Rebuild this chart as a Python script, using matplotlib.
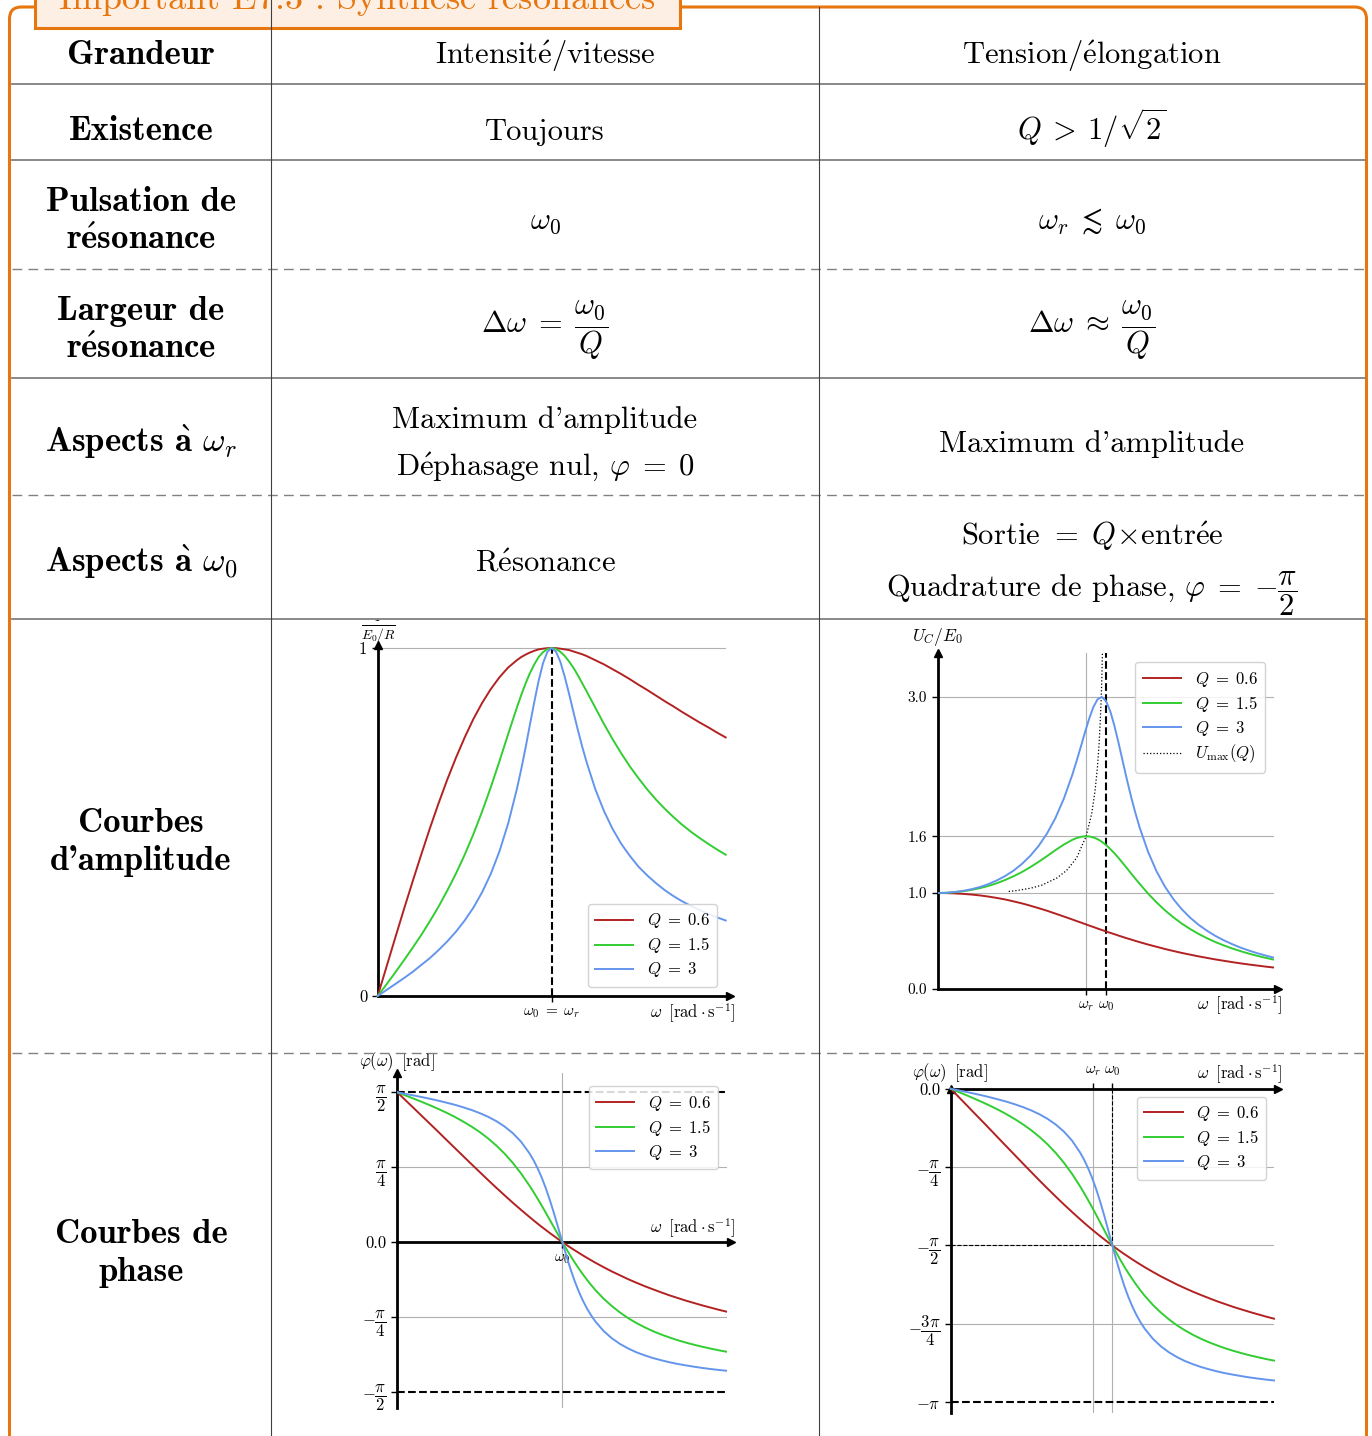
import matplotlib
matplotlib.use("Agg")
import matplotlib.pyplot as plt
from matplotlib.patches import FancyBboxPatch, Rectangle
import numpy as np

plt.rcParams['font.family'] = ['cmr10', 'DejaVu Serif']
plt.rcParams['mathtext.fontset'] = 'cm'
plt.rcParams['axes.unicode_minus'] = False

# ------------------------------------------------------------------ data
# reduced pulsation omega/omega0
omega = [0, 0.05, 0.1, 0.15, 0.2, 0.25, 0.3, 0.35, 0.4, 0.45, 0.5, 0.55, 0.6, 0.65, 0.7, 0.75, 0.8,
         0.825, 0.85, 0.875, 0.9, 0.925, 0.95, 0.975, 1.0, 1.025, 1.05, 1.075, 1.1, 1.125, 1.15, 1.175,
         1.2, 1.25, 1.3, 1.35, 1.4, 1.45, 1.5, 1.55, 1.6, 1.65, 1.7, 1.75, 1.8, 1.85, 1.9, 1.95, 2.0]
q_labels = [r'$Q\;=\;0.6$', r'$Q\;=\;1.5$', r'$Q\;=\;3$']
q_colors = ['firebrick', 'limegreen', 'cornflowerblue']

# intensity amplitude I/(E0/R)
i_q06 = [0, 0.083, 0.166, 0.248, 0.328, 0.406, 0.482, 0.554, 0.622, 0.685, 0.743, 0.796, 0.842, 0.882,
         0.916, 0.944, 0.965, 0.974, 0.981, 0.987, 0.992, 0.996, 0.998, 0.9995, 1.0, 0.9996, 0.998, 0.996,
         0.994, 0.990, 0.986, 0.982, 0.977, 0.965, 0.953, 0.939, 0.925, 0.910, 0.894, 0.879, 0.863, 0.847,
         0.832, 0.816, 0.801, 0.786, 0.772, 0.757, 0.743]
i_q15 = [0, 0.033, 0.067, 0.102, 0.138, 0.175, 0.215, 0.257, 0.303, 0.352, 0.406, 0.465, 0.530, 0.600,
         0.675, 0.753, 0.829, 0.865, 0.898, 0.928, 0.953, 0.974, 0.988, 0.997, 1.0, 0.997, 0.989, 0.977,
         0.961, 0.943, 0.922, 0.899, 0.876, 0.829, 0.782, 0.738, 0.697, 0.659, 0.625, 0.593, 0.564, 0.538,
         0.514, 0.492, 0.472, 0.454, 0.437, 0.421, 0.406]
i_q3 = [0, 0.017, 0.034, 0.051, 0.069, 0.089, 0.109, 0.132, 0.157, 0.185, 0.217, 0.254, 0.298, 0.351,
        0.416, 0.496, 0.595, 0.652, 0.714, 0.780, 0.845, 0.906, 0.956, 0.989, 1.0, 0.989, 0.960, 0.917,
        0.868, 0.816, 0.765, 0.717, 0.673, 0.595, 0.532, 0.480, 0.437, 0.402, 0.371, 0.346, 0.324, 0.304,
        0.287, 0.272, 0.259, 0.247, 0.236, 0.226, 0.217]

# voltage amplitude U_C/E0
u_q06 = [1.0, 0.999, 0.996, 0.991, 0.984, 0.975, 0.963, 0.949, 0.933, 0.913, 0.892, 0.868, 0.842, 0.815,
         0.785, 0.755, 0.724, 0.708, 0.693, 0.677, 0.661, 0.646, 0.630, 0.615, 0.600, 0.585, 0.571, 0.556,
         0.542, 0.528, 0.515, 0.501, 0.488, 0.463, 0.440, 0.417, 0.396, 0.376, 0.358, 0.340, 0.324, 0.308,
         0.294, 0.280, 0.267, 0.255, 0.244, 0.233, 0.223]
u_q15 = [1.0, 1.002, 1.008, 1.018, 1.032, 1.050, 1.073, 1.101, 1.135, 1.174, 1.218, 1.269, 1.325, 1.385,
         1.447, 1.505, 1.554, 1.572, 1.585, 1.591, 1.589, 1.579, 1.561, 1.534, 1.500, 1.459, 1.414, 1.364,
         1.311, 1.257, 1.202, 1.148, 1.095, 0.994, 0.903, 0.820, 0.747, 0.682, 0.625, 0.574, 0.529, 0.489,
         0.454, 0.422, 0.394, 0.368, 0.345, 0.324, 0.305]
u_q3 = [1.0, 1.002, 1.010, 1.022, 1.039, 1.062, 1.092, 1.130, 1.176, 1.232, 1.302, 1.387, 1.491, 1.621,
        1.783, 1.985, 2.232, 2.373, 2.521, 2.673, 2.816, 2.937, 3.018, 3.042, 3.000, 2.895, 2.742, 2.560,
        2.367, 2.176, 1.996, 1.831, 1.682, 1.429, 1.227, 1.067, 0.937, 0.831, 0.743, 0.669, 0.607, 0.553,
        0.507, 0.467, 0.431, 0.400, 0.372, 0.348, 0.325]
# resonance maxima U_max(Q)
umax_w = [0.422, 0.468, 0.555, 0.619, 0.707, 0.766, 0.825, 0.882, 0.915, 0.935, 0.949, 0.959,
          0.966, 0.972, 0.976, 0.979, 0.984]
umax_v = [1.016, 1.025, 1.051, 1.082, 1.155, 1.235, 1.364, 1.591, 1.826, 2.066, 2.308, 2.552,
          2.797, 3.043, 3.289, 3.536, 4.032]
u_ticks = [0.0, 1.0, 1.591, 3.043]
u_ticklabels = ['0.0', '1.0', '1.6', '3.0']
w_r = 0.882

# phase of intensity (rad)
p_q06 = [1.571, 1.487, 1.404, 1.320, 1.237, 1.153, 1.068, 0.984, 0.900, 0.816, 0.733, 0.650, 0.569, 0.490,
         0.412, 0.337, 0.264, 0.228, 0.193, 0.159, 0.126, 0.093, 0.062, 0.030, 0.0, -0.030, -0.059, -0.087,
         -0.114, -0.141, -0.167, -0.192, -0.217, -0.264, -0.309, -0.350, -0.391, -0.428, -0.464, -0.497,
         -0.529, -0.560, -0.588, -0.616, -0.641, -0.666, -0.689, -0.712, -0.733]
p_q15 = [1.571, 1.537, 1.504, 1.469, 1.433, 1.395, 1.355, 1.311, 1.263, 1.211, 1.153, 1.087, 1.012, 0.927,
         0.830, 0.719, 0.594, 0.526, 0.455, 0.382, 0.307, 0.230, 0.153, 0.076, 0.0, -0.074, -0.145, -0.214,
         -0.279, -0.340, -0.398, -0.452, -0.503, -0.594, -0.672, -0.740, -0.800, -0.851, -0.896, -0.936,
         -0.971, -1.002, -1.031, -1.056, -1.079, -1.100, -1.119, -1.137, -1.153]
p_q3 = [1.571, 1.554, 1.537, 1.520, 1.502, 1.482, 1.461, 1.439, 1.413, 1.385, 1.352, 1.314, 1.268, 1.212,
        1.142, 1.052, 0.933, 0.860, 0.775, 0.677, 0.564, 0.438, 0.299, 0.151, 0.0, -0.147, -0.285, -0.410,
        -0.520, -0.616, -0.699, -0.771, -0.833, -0.933, -1.010, -1.070, -1.118, -1.158, -1.190, -1.218,
        -1.241, -1.262, -1.280, -1.295, -1.309, -1.322, -1.333, -1.343, -1.352]

# phase of voltage (rad)
v_q06 = [0.0, -0.084, -0.167, -0.251, -0.334, -0.418, -0.503, -0.587, -0.671, -0.755, -0.838, -0.921,
         -1.002, -1.081, -1.159, -1.234, -1.307, -1.343, -1.378, -1.412, -1.445, -1.478, -1.509, -1.541,
         -1.571, -1.601, -1.630, -1.658, -1.685, -1.712, -1.738, -1.763, -1.788, -1.835, -1.880, -1.921,
         -1.962, -1.999, -2.035, -2.068, -2.100, -2.131, -2.159, -2.187, -2.212, -2.237, -2.260, -2.283, -2.304]
v_q15 = [0.0, -0.034, -0.067, -0.102, -0.138, -0.176, -0.216, -0.260, -0.308, -0.360, -0.418, -0.484,
         -0.559, -0.644, -0.741, -0.852, -0.977, -1.045, -1.116, -1.189, -1.264, -1.341, -1.418, -1.495,
         -1.571, -1.645, -1.716, -1.785, -1.850, -1.911, -1.969, -2.023, -2.074, -2.165, -2.243, -2.311,
         -2.371, -2.422, -2.467, -2.507, -2.542, -2.573, -2.602, -2.627, -2.650, -2.671, -2.690, -2.708, -2.724]
v_q3 = [0.0, -0.017, -0.034, -0.051, -0.069, -0.089, -0.110, -0.132, -0.158, -0.186, -0.219, -0.257,
        -0.303, -0.359, -0.429, -0.519, -0.638, -0.711, -0.796, -0.894, -1.007, -1.133, -1.272, -1.420,
        -1.571, -1.718, -1.856, -1.981, -2.091, -2.187, -2.270, -2.342, -2.404, -2.504, -2.581, -2.641,
        -2.689, -2.729, -2.761, -2.789, -2.812, -2.833, -2.851, -2.866, -2.880, -2.893, -2.904, -2.914, -2.923]

PI = np.pi
p_ticks = [PI / 2, PI / 4, 0.0, -PI / 4, -PI / 2]
p_ticklabels = [r'$\dfrac{\pi}{2}$', r'$\dfrac{\pi}{4}$', '0.0', r'$-\dfrac{\pi}{4}$', r'$-\dfrac{\pi}{2}$']
v_ticks = [0.0, -PI / 4, -PI / 2, -3 * PI / 4, -PI]
v_ticklabels = ['0.0', r'$-\dfrac{\pi}{4}$', r'$-\dfrac{\pi}{2}$', r'$-\dfrac{3\pi}{4}$', r'$-\pi$']

# table text
E_AC = r'$\acute{\mathrm{e}}$'
title = r'Important E7.3 : Synth$\grave{\mathrm{e}}$se r' + E_AC + 'sonances'
row_labels = [['Grandeur'], ['Existence'], ['Pulsation de', r'r$\acute{\mathbf{e}}$sonance'],
              ['Largeur de', r'r$\acute{\mathbf{e}}$sonance'],
              [r'Aspects $\grave{\mathbf{a}}$ $\omega_r$'], [r'Aspects $\grave{\mathbf{a}}$ $\omega_0$'],
              ['Courbes', "d'amplitude"], ['Courbes de', 'phase']]
col1_text = [['Intensit' + E_AC + '/vitesse'], ['Toujours'], [r'$\omega_0$'],
             [r'$\Delta\omega\;=\;\dfrac{\omega_0}{Q}$'],
             ["Maximum d'amplitude", 'D' + E_AC + r'phasage nul, $\varphi\;=\;0$'], ['R' + E_AC + 'sonance']]
col2_text = [['Tension/' + E_AC + 'longation'], [r'$Q\:>\:1/\sqrt{2}$'], [r'$\omega_r\;\lesssim\;\omega_0$'],
             [r'$\Delta\omega\;\approx\;\dfrac{\omega_0}{Q}$'], ["Maximum d'amplitude"],
             [r'Sortie $=\;Q\!\times\!$entr' + E_AC + 'e',
              r'Quadrature de phase, $\varphi\;=\;{-}\dfrac{\pi}{2}$']]

# ------------------------------------------------------------------ layout
W, H = 1372, 1436
fig = plt.figure(figsize=(W / 100, H / 100), dpi=100)
ORANGE = '#E8760F'
GRID = '#b0b0b0'


def axes_px(x0, y0, x1, y1):
    return fig.add_axes([x0 / W, 1 - y1 / H, (x1 - x0) / W, (y1 - y0) / H])


def style(ax):
    for s in ['top', 'right']:
        ax.spines[s].set_visible(False)
    ax.spines['left'].set_linewidth(2)
    ax.spines['bottom'].set_linewidth(2)
    ax.tick_params(labelsize=11, length=4, width=1)


def legend(ax, loc, anchor):
    ax.legend(loc=loc, bbox_to_anchor=anchor, borderaxespad=0, fontsize=12,
              handlelength=2.3, handletextpad=0.8, labelspacing=0.3, borderpad=0.45,
              framealpha=0.85, edgecolor='0.8')


curves_i = [i_q06, i_q15, i_q3]
curves_u = [u_q06, u_q15, u_q3]
curves_p = [p_q06, p_q15, p_q3]
curves_v = [v_q06, v_q15, v_q3]
LW = 1.4

# ---- plot 1 : intensity amplitude
ax1 = axes_px(377.7, 644.5, 725.7, 996)
style(ax1)
ax1.set_xlim(0, 2)
ax1.set_ylim(0, 1.01)
ax1.axhline(1.0, color=GRID, lw=0.8, zorder=0)
ax1.plot([1, 1], [0, 1], color='k', ls='--', lw=1.5, zorder=1)
for y, c, l in zip(curves_i, q_colors, q_labels):
    ax1.plot(omega, y, color=c, lw=LW, label=l, clip_on=False, zorder=3)
ax1.set_xticks([1])
ax1.set_xticklabels([r'$\omega_0\;=\;\omega_r$'], fontsize=11)
ax1.set_yticks([0, 1])
ax1.set_yticklabels(['0', '1'], fontsize=12)
ax1.plot(1.012, 0, '>k', ms=6, transform=ax1.transAxes, clip_on=False)
ax1.plot(0, 1.0, '^k', ms=6, transform=ax1.transAxes, clip_on=False)
legend(ax1, 'lower right', (0.975, 0.026))

# ---- plot 2 : voltage amplitude
ax2 = axes_px(937.7, 653, 1274.3, 989)
style(ax2)
ax2.set_xlim(0, 2)
ax2.set_ylim(0, 3.5)
for yv in u_ticks[1:]:
    ax2.axhline(yv, color=GRID, lw=0.8, zorder=0)
ax2.axvline(w_r, color=GRID, lw=0.8, zorder=0)
ax2.axvline(1.0, color='k', ls='--', lw=1.5, zorder=1)
for y, c, l in zip(curves_u, q_colors, q_labels):
    ax2.plot(omega, y, color=c, lw=LW, label=l, zorder=3)
ax2.plot(umax_w, umax_v, color='k', ls=':', lw=0.9, label=r'$U_{\mathrm{max}}(Q)$', zorder=2)
ax2.set_xticks([w_r, 1.0])
ax2.set_xticklabels([r'$\omega_r$', r'$\omega_0$'], fontsize=11)
ax2.set_yticks(u_ticks)
ax2.set_yticklabels(u_ticklabels)
ax2.plot(1.012, 0, '>k', ms=6, transform=ax2.transAxes, clip_on=False)
ax2.plot(0, 1.0, '^k', ms=6, transform=ax2.transAxes, clip_on=False)
legend(ax2, 'upper right', (0.972, 0.973))

# ---- plot 3 : intensity phase
ax3 = axes_px(397.3, 1073.3, 727.3, 1408.3)
style(ax3)
ax3.spines['bottom'].set_position(('data', 0))
ax3.set_xlim(0, 2)
ax3.set_ylim(-1.745, 1.770)
for yv in [PI / 4, -PI / 4]:
    ax3.axhline(yv, color=GRID, lw=0.8, zorder=0)
ax3.axvline(1.0, color=GRID, lw=0.8, zorder=0)
for yv in [PI / 2, -PI / 2]:
    ax3.axhline(yv, color='k', ls='--', lw=1.5, zorder=1)
for y, c, l in zip(curves_p, q_colors, q_labels):
    ax3.plot(omega, y, color=c, lw=LW, label=l, zorder=3)
ax3.set_xticks([1])
ax3.set_xticklabels([r'$\omega_0$'], fontsize=11)
ax3.set_yticks(p_ticks)
ax3.set_yticklabels(p_ticklabels, fontsize=12)
ax3.plot(1.012, 0, '>k', ms=6, transform=ax3.get_yaxis_transform(), clip_on=False)
ax3.plot(0, 1.0, '^k', ms=6, transform=ax3.transAxes, clip_on=False)
legend(ax3, 'upper right', (0.972, 0.962))

# ---- plot 4 : voltage phase
ax4 = axes_px(950.7, 1088.7, 1274.0, 1412.7)
for s in ['bottom', 'right']:
    ax4.spines[s].set_visible(False)
ax4.spines['left'].set_linewidth(2)
ax4.spines['top'].set_linewidth(2)
ax4.tick_params(labelsize=11, length=4, width=1)
ax4.xaxis.tick_top()
ax4.set_xlim(0, 2)
ax4.set_ylim(-3.246, 0)
for yv in [-PI / 4, -PI / 2, -3 * PI / 4]:
    ax4.axhline(yv, color=GRID, lw=0.8, zorder=0)
ax4.axvline(w_r, color=GRID, lw=0.8, zorder=0)
ax4.axvline(1.0, color=GRID, lw=0.8, zorder=0)
ax4.axhline(-PI, color='k', ls='--', lw=1.5, zorder=1)
ax4.plot([0, 1], [-PI / 2, -PI / 2], color='k', ls='--', lw=0.8, zorder=1)
ax4.plot([1, 1], [0, -PI / 2], color='k', ls='--', lw=0.8, zorder=1)
for y, c, l in zip(curves_v, q_colors, q_labels):
    ax4.plot(omega, y, color=c, lw=LW, label=l, clip_on=False, zorder=3)
ax4.set_xticks([w_r, 1.0])
ax4.set_xticklabels([r'$\omega_r$', r'$\omega_0$'], fontsize=11)
ax4.set_yticks(v_ticks)
ax4.set_yticklabels(v_ticklabels, fontsize=12)
ax4.plot(1.012, 1.0, '>k', ms=6, transform=ax4.transAxes, clip_on=False)
ax4.plot(0, 1.0, '^k', ms=6, transform=ax4.transAxes, clip_on=False)
legend(ax4, 'upper right', (0.976, 0.975))

# ------------------------------------------------------------------ overlay (table)
ov = fig.add_axes([0, 0, 1, 1], zorder=10)
ov.set_xlim(0, W)
ov.set_ylim(H, 0)
ov.axis('off')
ov.patch.set_alpha(0)

# axis labels of the plots
xl = r'$\omega\;\;[\mathrm{rad}\cdot\mathrm{s}^{-1}]$'
phl = r'$\varphi(\omega)\;\;[\mathrm{rad}]$'
ov.text(378, 627, r'$\frac{I}{E_0/R}$', fontsize=14, ha='center', va='center', zorder=3)
ov.text(736, 1013, xl, fontsize=12, ha='right', va='center')
ov.text(937, 637, r'$U_C/E_0$', fontsize=12.5, ha='center', va='center')
ov.text(1283, 1005, xl, fontsize=12, ha='right', va='center')
ov.text(397, 1062, phl, fontsize=12, ha='center', va='center')
ov.text(736, 1228, xl, fontsize=12, ha='right', va='center')
ov.text(950, 1073, phl, fontsize=12, ha='center', va='center')
ov.text(1283, 1074, xl, fontsize=12, ha='right', va='center')
# image top edge hiding part of the label
ov.add_patch(Rectangle((352, 590), 390, 28.5, facecolor='white', edgecolor='none', zorder=4))

# outer frame and title
ov.add_patch(FancyBboxPatch((9.5, 7), 1357, 1480, boxstyle='round,pad=0,rounding_size=12',
                            facecolor='none', edgecolor=ORANGE, lw=2.2, zorder=5, clip_on=False))
ov.add_patch(Rectangle((35, -30), 645, 58, facecolor='#FDEFE3', edgecolor=ORANGE, lw=2.2, zorder=6))
ov.text(357, 10, title, fontsize=26, color=ORANGE, ha='center', va='baseline', zorder=7)

# table rules
for y in [84, 160, 378, 619]:
    ov.plot([12, 1365], [y, y], color='#808080', lw=1.3, zorder=5)
for y in [269, 495, 1053]:
    ov.plot([12, 1365], [y, y], color='#808080', lw=1.0, dashes=(7, 4.5), zorder=5)
ov.plot([271, 271], [0, H], color='#404040', lw=0.8, zorder=8)
ov.plot([819, 819], [7, H], color='#404040', lw=0.8, zorder=8)

# table text
label_base = [[64], [140], [211, 249], [320, 358], [452], [572], [832, 870], [1243, 1281]]
col1_base = [[64], [140], [229], [333], [428, 475], [572]]
col2_base = [[64], [140], [229], [333], [452], [545, 597]]
BOLD = ['cmb10', 'DejaVu Serif']
for lines, bases in zip(row_labels, label_base):
    for s, b in zip(lines, bases):
        ov.text(141, b, s, fontsize=25, family=BOLD, fontweight='bold', ha='center', va='baseline')
for lines, bases in zip(col1_text, col1_base):
    for s, b in zip(lines, bases):
        ov.text(545, b, s, fontsize=22, ha='center', va='baseline')
for lines, bases in zip(col2_text, col2_base):
    for s, b in zip(lines, bases):
        ov.text(1092, b, s, fontsize=22, ha='center', va='baseline')

fig.savefig('out.png', dpi=100)
